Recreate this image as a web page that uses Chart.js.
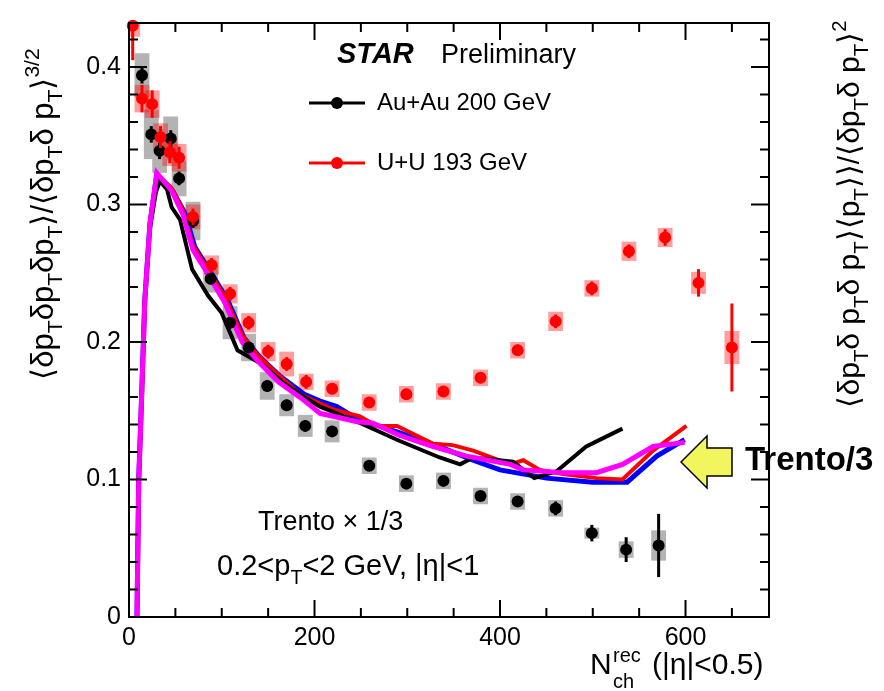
<!DOCTYPE html>
<html>
<head>
<meta charset="utf-8">
<script src="https://cdn.jsdelivr.net/npm/chart.js@4.4.0/dist/chart.umd.min.js"></script>
<style>
  html, body { margin: 0; padding: 0; background: #fff; }
  #c { display: block; }
</style>
</head>
<body>
<canvas id="c" width="884" height="691"></canvas>
<script>
// Au+Au 200 GeV (black points, grey systematic boxes)
const auX    = [14, 24, 33, 45, 54, 69, 88, 109, 129, 149, 170, 190, 219, 259, 299, 339, 379, 419, 460, 499, 536, 571];
const auY    = [0.394, 0.351, 0.339, 0.348, 0.319, 0.288, 0.246, 0.214, 0.196, 0.168, 0.154, 0.139, 0.135, 0.110, 0.097, 0.099, 0.088, 0.084, 0.079, 0.061, 0.049, 0.052];
const auStat = [0.006, 0.006, 0.006, 0.006, 0.005, 0.005, 0.004, 0.004, 0.004, 0.004, 0.004, 0.004, 0.004, 0.003, 0.003, 0.003, 0.003, 0.004, 0.005, 0.006, 0.009, 0.023];
const auSys  = [0.016, 0.018, 0.016, 0.016, 0.013, 0.014, 0.010, 0.012, 0.010, 0.010, 0.008, 0.008, 0.008, 0.006, 0.006, 0.006, 0.006, 0.006, 0.006, 0.004, 0.006, 0.011];

// U+U 193 GeV (red points, pink systematic boxes)
const uuX    = [4, 14, 25, 34, 44, 54, 69, 89, 109, 129, 150, 170, 191, 219, 259, 299, 339, 379, 419, 460, 499, 539, 578, 614, 650];
const uuY    = [0.430, 0.377, 0.373, 0.349, 0.338, 0.334, 0.291, 0.256, 0.235, 0.214, 0.193, 0.184, 0.171, 0.166, 0.156, 0.162, 0.164, 0.174, 0.194, 0.215, 0.239, 0.266, 0.276, 0.243, 0.196];
const uuStat = [0.025, 0.010, 0.010, 0.008, 0.008, 0.008, 0.006, 0.005, 0.005, 0.005, 0.005, 0.005, 0.005, 0.004, 0.004, 0.004, 0.004, 0.004, 0.004, 0.005, 0.005, 0.005, 0.006, 0.010, 0.032];
const uuSys  = [0.008, 0.010, 0.010, 0.010, 0.010, 0.010, 0.009, 0.007, 0.007, 0.007, 0.007, 0.009, 0.006, 0.006, 0.006, 0.006, 0.006, 0.006, 0.006, 0.007, 0.006, 0.007, 0.007, 0.008, 0.012];
const boxHalfWidth = 8;

// Trento curves (already scaled by 1/3)
const trMagX = [8.6, 10.5, 13, 17, 22.6, 30, 46, 58, 69, 82, 103, 122, 139, 161, 186, 206, 220, 246, 263, 292, 328, 364, 411, 425, 468, 504, 532, 565, 599];
const trMagY = [0, 0.1, 0.148, 0.23, 0.286, 0.323, 0.31, 0.293, 0.267, 0.253, 0.229, 0.2, 0.186, 0.171, 0.159, 0.148, 0.146, 0.142, 0.141, 0.132, 0.124, 0.117, 0.111, 0.107, 0.105, 0.105, 0.111, 0.124, 0.127];

const trBlueX = [8.6, 10.5, 13, 17, 22.6, 30, 47, 60, 71, 84, 106, 124, 141, 163, 189, 206, 224, 246, 292, 338, 371, 400, 450, 500, 537, 569, 599];
const trBlueY = [0, 0.1, 0.148, 0.23, 0.286, 0.322, 0.31, 0.294, 0.269, 0.255, 0.231, 0.203, 0.189, 0.175, 0.162, 0.157, 0.153, 0.144, 0.134, 0.123, 0.114, 0.107, 0.101, 0.098, 0.098, 0.117, 0.129];

const trRedX = [8.6, 10.5, 13, 17, 22.6, 30, 46, 58, 69, 82, 103, 122, 139, 161, 184, 220, 249, 267, 289, 328, 349, 371, 411, 425, 443, 468, 504, 532, 565, 601];
const trRedY = [0, 0.1, 0.148, 0.23, 0.286, 0.322, 0.312, 0.296, 0.27, 0.256, 0.233, 0.205, 0.19, 0.176, 0.162, 0.151, 0.146, 0.139, 0.139, 0.126, 0.125, 0.121, 0.111, 0.114, 0.107, 0.104, 0.101, 0.1, 0.121, 0.139];

const trBlackX = [8.6, 10.5, 13, 17, 22, 29, 33.4, 41, 46, 55, 68, 85, 100, 117, 143, 165, 184, 206, 246, 292, 335, 357, 371, 414, 437, 461, 493, 532];
const trBlackY = [0, 0.1, 0.148, 0.23, 0.28, 0.309, 0.317, 0.311, 0.298, 0.289, 0.253, 0.234, 0.221, 0.194, 0.184, 0.171, 0.162, 0.153, 0.142, 0.128, 0.116, 0.111, 0.116, 0.113, 0.101, 0.106, 0.124, 0.137];

// axes
const xMin = 0, xMax = 690;
const yMin = 0, yMax = 0.432;
const xTicks = [0, 200, 400, 600];
const yTicks = [0, 0.1, 0.2, 0.3, 0.4];
const xMinorStep = 50;
const yMinorStep = 0.02;

const FONT = '"Liberation Sans", Arial, Helvetica, sans-serif';
const toXY = (xs, ys) => xs.map((x, i) => ({ x: x, y: ys[i] }));

// draws text made of [string, mode] pieces, mode '' | 'sub' | 'sup'
function drawRich(ctx, parts, x, y, size, align) {
  const small = size * 0.68;
  const widths = parts.map(p => {
    ctx.font = (p[1] ? small : size) + 'px ' + FONT;
    return ctx.measureText(p[0]).width;
  });
  const total = widths.reduce((a, b) => a + b, 0);
  let cx = align === 'center' ? x - total / 2 : (align === 'right' ? x - total : x);
  ctx.textAlign = 'left';
  ctx.textBaseline = 'alphabetic';
  parts.forEach((p, i) => {
    ctx.font = (p[1] ? small : size) + 'px ' + FONT;
    const dy = p[1] === 'sub' ? size * 0.3 : (p[1] === 'sup' ? -size * 0.45 : 0);
    ctx.fillText(p[0], cx, y + dy);
    cx += widths[i];
  });
}

// systematic boxes under everything
const boxPlugin = {
  id: 'sysBoxes',
  beforeDatasetsDraw(chart) {
    const { ctx, chartArea: a, scales: { x, y } } = chart;
    ctx.save();
    ctx.beginPath();
    ctx.rect(a.left, a.top, a.right - a.left, a.bottom - a.top);
    ctx.clip();
    const box = (xs, ys, sys, color) => {
      ctx.fillStyle = color;
      xs.forEach((v, i) => {
        const l = x.getPixelForValue(v - boxHalfWidth);
        const r = x.getPixelForValue(v + boxHalfWidth);
        const t = y.getPixelForValue(ys[i] + sys[i]);
        const b = y.getPixelForValue(ys[i] - sys[i]);
        ctx.fillRect(l, t, r - l, b - t);
      });
    };
    box(auX, auY, auSys, '#b3b3b3');
    box(uuX, uuY, uuSys, 'rgba(255, 0, 0, 0.38)');
    ctx.restore();
  }
};

// statistical error bars, drawn just before their markers
const errPlugin = {
  id: 'statBars',
  beforeDatasetDraw(chart, args) {
    const sets = { 0: [uuX, uuY, uuStat, '#ff0000'], 1: [auX, auY, auStat, '#000000'] };
    const s = sets[args.index];
    if (!s) return;
    const { ctx, chartArea: a, scales: { x, y } } = chart;
    ctx.save();
    ctx.beginPath();
    ctx.rect(a.left, a.top, a.right - a.left, a.bottom - a.top);
    ctx.clip();
    ctx.strokeStyle = s[3];
    ctx.lineWidth = 3;
    s[0].forEach((v, i) => {
      const px = x.getPixelForValue(v);
      ctx.beginPath();
      ctx.moveTo(px, y.getPixelForValue(s[1][i] + s[2][i]));
      ctx.lineTo(px, y.getPixelForValue(s[1][i] - s[2][i]));
      ctx.stroke();
    });
    ctx.restore();
  }
};

// frame, inward ticks and all annotations
const framePlugin = {
  id: 'frame',
  afterDraw(chart) {
    const { ctx, chartArea: a, scales: { x, y } } = chart;
    ctx.save();
    ctx.strokeStyle = '#000';
    ctx.lineWidth = 2;
    ctx.strokeRect(a.left, a.top, a.right - a.left, a.bottom - a.top);

    ctx.beginPath();
    for (let v = xMin; v <= xMax; v += xMinorStep) {
      const px = x.getPixelForValue(v);
      const len = v % 200 === 0 ? 17 : 9;
      ctx.moveTo(px, a.bottom); ctx.lineTo(px, a.bottom - len);
      ctx.moveTo(px, a.top); ctx.lineTo(px, a.top + len);
    }
    for (let k = 0; k * yMinorStep <= yMax + 1e-9; k++) {
      const py = y.getPixelForValue(k * yMinorStep);
      const len = k % 5 === 0 ? 18 : 9;
      ctx.moveTo(a.left, py); ctx.lineTo(a.left + len, py);
      ctx.moveTo(a.right, py); ctx.lineTo(a.right - len, py);
    }
    ctx.stroke();

    ctx.fillStyle = '#000';
    // header
    ctx.textBaseline = 'alphabetic';
    ctx.textAlign = 'left';
    ctx.font = 'italic bold 29px ' + FONT;
    ctx.fillText('STAR', 337, 63);
    ctx.font = '27px ' + FONT;
    ctx.fillText('Preliminary', 441, 63);

    // legend
    const legend = [['Au+Au 200 GeV', '#000000', 103], ['U+U 193 GeV', '#ff0000', 163]];
    legend.forEach(([label, color, ly]) => {
      ctx.strokeStyle = color;
      ctx.lineWidth = 3;
      ctx.beginPath(); ctx.moveTo(309, ly); ctx.lineTo(365, ly); ctx.stroke();
      ctx.fillStyle = color;
      ctx.beginPath(); ctx.arc(337, ly, 6, 0, Math.PI * 2); ctx.fill();
      ctx.fillStyle = '#000';
      ctx.font = '24px ' + FONT;
      ctx.textBaseline = 'middle';
      ctx.fillText(label, 377, ly);
    });

    ctx.textBaseline = 'alphabetic';
    ctx.font = '27px ' + FONT;
    ctx.fillText('Trento \u00d7 1/3', 258, 530);
    drawRich(ctx, [['0.2<p', ''], ['T', 'sub'], ['<2 GeV, |\u03b7|<1', '']], 217, 575, 29, 'left');

    // x title
    ctx.font = '30px ' + FONT;
    ctx.fillText('N', 590, 674);
    ctx.font = '20px ' + FONT;
    ctx.fillText('rec', 613, 662);
    ctx.fillText('ch', 613, 688);
    ctx.font = '30px ' + FONT;
    ctx.fillText('(|\u03b7|<0.5)', 652, 674);

    // left y title
    ctx.save();
    ctx.translate(53, 214);
    ctx.rotate(-Math.PI / 2);
    drawRich(ctx, [['\u27e8\u03b4p', ''], ['T', 'sub'], ['\u03b4p', ''], ['T', 'sub'], ['\u03b4p', ''], ['T', 'sub'],
      ['\u27e9/\u27e8\u03b4p', ''], ['T', 'sub'], ['\u03b4 p', ''], ['T', 'sub'], ['\u27e9', ''], ['3/2', 'sup']], 0, 0, 31, 'center');
    ctx.restore();

    // right y title
    ctx.save();
    ctx.translate(859, 214);
    ctx.rotate(-Math.PI / 2);
    drawRich(ctx, [['\u27e8\u03b4p', ''], ['T', 'sub'], ['\u03b4 p', ''], ['T', 'sub'], ['\u03b4 p', ''], ['T', 'sub'],
      ['\u27e9\u27e8p', ''], ['T', 'sub'], ['\u27e9\u27e9/\u27e8\u03b4p', ''], ['T', 'sub'], ['\u03b4 p', ''], ['T', 'sub'], ['\u27e9', ''], ['2', 'sup']], 0, 0, 30, 'center');
    ctx.restore();

    // arrow + label
    ctx.fillStyle = '#f2f55e';
    ctx.strokeStyle = '#000';
    ctx.lineWidth = 1.5;
    ctx.beginPath();
    ctx.moveTo(681, 462);
    ctx.lineTo(707, 436);
    ctx.lineTo(707, 448);
    ctx.lineTo(732, 448);
    ctx.lineTo(732, 476);
    ctx.lineTo(707, 476);
    ctx.lineTo(707, 488);
    ctx.closePath();
    ctx.fill();
    ctx.stroke();
    ctx.fillStyle = '#000';
    ctx.font = 'bold 33px ' + FONT;
    ctx.fillText('Trento/3', 745, 470);
    ctx.restore();
  }
};

const trentoLine = (xs, ys, color, width) => ({
  data: toXY(xs, ys), showLine: true, borderColor: color, borderWidth: width,
  pointRadius: 0, fill: false, tension: 0
});

new Chart(document.getElementById('c'), {
  type: 'scatter',
  data: {
    datasets: [
      { label: 'U+U 193 GeV', data: toXY(uuX, uuY), backgroundColor: '#ff0000', pointRadius: 6, borderWidth: 0, clip: false },
      { label: 'Au+Au 200 GeV', data: toXY(auX, auY), backgroundColor: '#000000', pointRadius: 6, borderWidth: 0, clip: false },
      trentoLine(trMagX, trMagY, '#ff00ff', 5),
      trentoLine(trBlackX, trBlackY, '#000000', 4),
      trentoLine(trRedX, trRedY, '#ff0000', 4),
      trentoLine(trBlueX, trBlueY, '#0000ff', 5)
    ]
  },
  options: {
    responsive: false,
    animation: false,
    devicePixelRatio: 1,
    layout: { padding: { left: 0, right: 115, top: 12, bottom: 0 } },
    plugins: { legend: { display: false }, tooltip: { enabled: false } },
    scales: {
      x: {
        type: 'linear', min: xMin, max: xMax,
        grid: { display: false, drawTicks: false },
        border: { display: false },
        afterBuildTicks: s => { s.ticks = xTicks.map(v => ({ value: v })); },
        afterFit: s => { s.height = 74; },
        ticks: { color: '#000', font: { family: FONT, size: 25 }, padding: 6, maxRotation: 0, callback: v => String(v) }
      },
      y: {
        type: 'linear', min: yMin, max: yMax,
        grid: { display: false, drawTicks: false },
        border: { display: false },
        afterBuildTicks: s => { s.ticks = yTicks.map(v => ({ value: v })); },
        afterFit: s => { s.width = 129; },
        ticks: { color: '#000', font: { family: FONT, size: 25 }, padding: 8, callback: v => String(v) }
      }
    }
  },
  plugins: [boxPlugin, errPlugin, framePlugin]
});
</script>
</body>
</html>
